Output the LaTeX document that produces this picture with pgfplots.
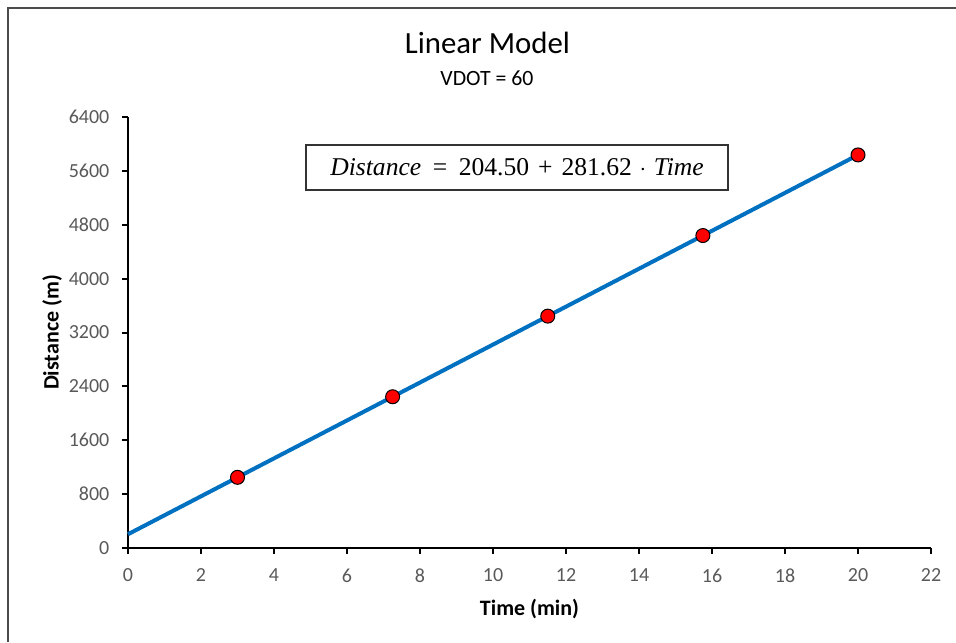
\documentclass[border=0pt]{standalone}
\usepackage{pgfplots}
\pgfplotsset{compat=1.18}
\usepackage{fontspec}
\setmainfont{Carlito}
\newfontfamily\eqfont{Liberation Serif}
\definecolor{trend}{HTML}{0070C0}
\definecolor{ticktxt}{HTML}{595959}

% points (red markers)
\pgfplotstableread{
t d
3     1049.4
7.25  2246.2
11.5  3443.1
15.75 4640.0
20    5836.9
}\obsdata

\begin{document}
\begin{tikzpicture}[x=1pt,y=1pt]
\path[use as bounding box] (0,0) rectangle (478,-321);
\draw[black!70, line width=0.6pt] (4,-321) -- (4,-4) -- (478,-4);
\node[font=\fontsize{15.4}{18}\selectfont] at (243.75,-21.5) {Linear Model};
\node[font=\fontsize{10.9}{13}\selectfont] at (243.5,-39) {VDOT = 60};
\begin{axis}[
  at={(64pt,-274pt)}, anchor=south west,
  width=401.5pt, height=215.5pt, scale only axis,
  xmin=0, xmax=22, ymin=0, ymax=6400,
  xtick={0,2,...,22}, ytick={0,800,...,6400},
  axis x line*=bottom, axis y line*=left,
  axis line style={line width=1pt, black},
  tick style={black, line width=1pt},
  major tick length=2.8pt, tick align=outside,
  tick label style={font=\fontsize{10}{12}\selectfont, text=ticktxt},
  xticklabel style={yshift=-4pt},
  yticklabel style={xshift=-3pt},
  /pgf/number format/assume math mode=true,
  /pgf/number format/1000 sep={},
  label style={font=\fontsize{11}{13}\selectfont\bfseries},
  xlabel={Time (min)}, ylabel={Distance (m)},
  xlabel style={yshift=-1.5pt},
  ylabel style={yshift=-3.5pt},
  clip=false,
]
\addplot[trend, line width=2pt] coordinates {(0,204.5) (20,5836.9)};
\addplot[only marks, mark=*, mark size=3.5pt,
  mark options={fill=red, draw=black, line width=0.5pt}] table[x=t, y=d] {\obsdata};
\end{axis}
\node[draw=black!80, line width=0.7pt, minimum width=211pt, minimum height=22.5pt,
  font=\fontsize{12.8}{15}\selectfont\eqfont] at (258.5,-83.75)
  {\itshape Distance\upshape\hspace{0.45em}=\hspace{0.45em}204.50\hspace{0.35em}+\hspace{0.35em}281.62\hspace{0.3em}$\cdot$\hspace{0.3em}\itshape Time};
\end{tikzpicture}
\end{document}
